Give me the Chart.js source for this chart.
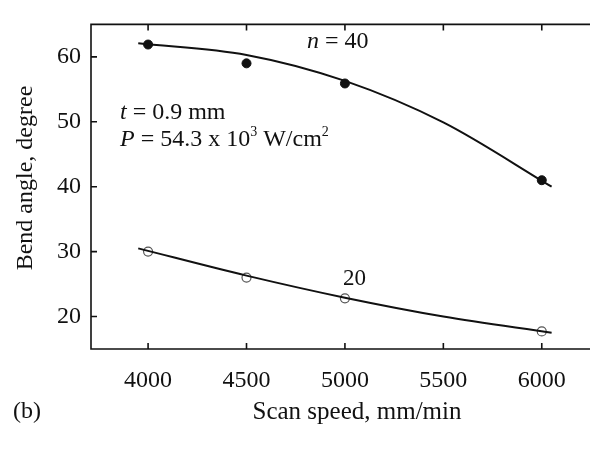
<!DOCTYPE html>
<html>
<head>
<meta charset="utf-8">
<script src="https://cdn.jsdelivr.net/npm/chart.js@4/dist/chart.umd.min.js"></script>
<style>
  html, body { margin: 0; padding: 0; background: #fff; }
</style>
</head>
<body>
<canvas id="bendChart" width="590" height="449"></canvas>
<script>
// measured points
const speeds = [4000, 4500, 5000, 6000];
const angle40 = [61.9, 59, 55.9, 41];
const angle20 = [30, 26, 22.8, 17.7];
// fitted curves
const fitSpeeds = [3950, 4500, 5000, 5500, 6050];
const fit40 = [62.1, 60.3, 56.3, 49.9, 40.0];
const fit20 = [30.5, 26.3, 22.9, 20.0, 17.5];
const xTicks = [4000, 4500, 5000, 5500, 6000];
const yTicks = [20, 30, 40, 50, 60];

const serif = '"Liberation Serif", "DejaVu Serif", serif';
const ink = '#111';

function pts(xs, ys) {
    return xs.map((x, i) => ({ x: x, y: ys[i] }));
}

// draws frame, inward ticks and the text labels
const decor = {
    id: 'decor',
    afterDraw(chart) {
        const ctx = chart.ctx;
        const a = chart.chartArea;
        const xs = chart.scales.x;
        const ys = chart.scales.y;
        ctx.save();
        ctx.strokeStyle = ink;
        ctx.lineWidth = 1.6;
        ctx.beginPath();
        ctx.moveTo(a.right, a.top);
        ctx.lineTo(a.left, a.top);
        ctx.lineTo(a.left, a.bottom);
        ctx.lineTo(a.right, a.bottom);
        xTicks.forEach(v => {
            const px = xs.getPixelForValue(v);
            ctx.moveTo(px, a.top); ctx.lineTo(px, a.top + 6);
            ctx.moveTo(px, a.bottom); ctx.lineTo(px, a.bottom - 6);
        });
        yTicks.forEach(v => {
            const py = ys.getPixelForValue(v);
            ctx.moveTo(a.left, py); ctx.lineTo(a.left + 6, py);
        });
        ctx.stroke();

        ctx.fillStyle = ink;
        ctx.textBaseline = 'middle';

        // axis titles
        ctx.font = '25px ' + serif;
        ctx.textAlign = 'center';
        ctx.fillText('Scan speed, mm/min', 357, 412);
        ctx.save();
        ctx.translate(26, 178);
        ctx.rotate(-Math.PI / 2);
        ctx.font = '24px ' + serif;
        ctx.fillText('Bend angle, degree', 0, 0);
        ctx.restore();

        ctx.textAlign = 'left';
        ctx.font = '24px ' + serif;
        ctx.fillText('(b)', 13, 412);

        // inline run of text pieces [text, italic, size, dy]
        function run(x, y, parts) {
            parts.forEach(p => {
                ctx.font = (p[1] ? 'italic ' : '') + p[2] + 'px ' + serif;
                ctx.fillText(p[0], x, y + (p[3] || 0));
                x += ctx.measureText(p[0]).width;
            });
        }
        run(307, 42, [
            ['n', true, 24], [' = 40', false, 24]
        ]);
        run(343, 279, [
            ['20', false, 23]
        ]);
        run(120, 113, [
            ['t', true, 24], [' = 0.9 mm', false, 24]
        ]);
        run(120, 140, [
            ['P', true, 24], [' = 54.3 x 10', false, 24], ['3', false, 14, -8],
            [' W/cm', false, 24], ['2', false, 14, -8]
        ]);
        ctx.restore();
    }
};

const ctx = document.getElementById('bendChart').getContext('2d');
const bendChart = new Chart(ctx, {
    type: 'scatter',
    data: {
        datasets: [{
            type: 'line',
            label: 'fit n = 40',
            data: pts(fitSpeeds, fit40),
            borderColor: ink,
            borderWidth: 2,
            pointRadius: 0,
            cubicInterpolationMode: 'monotone',
            fill: false
        }, {
            type: 'line',
            label: 'fit n = 20',
            data: pts(fitSpeeds, fit20),
            borderColor: ink,
            borderWidth: 2,
            pointRadius: 0,
            cubicInterpolationMode: 'monotone',
            fill: false
        }, {
            label: 'n = 40',
            data: pts(speeds, angle40),
            pointRadius: 4.5,
            backgroundColor: ink,
            borderColor: ink
        }, {
            label: 'n = 20',
            data: pts(speeds, angle20),
            pointRadius: 4.5,
            backgroundColor: '#fff',
            borderColor: '#555',
            borderWidth: 1.2
        }]
    },
    options: {
        responsive: false,
        animation: false,
        devicePixelRatio: 1,
        layout: { autoPadding: false, padding: { top: 12, right: 0, bottom: 0, left: 0 } },
        plugins: {
            legend: { display: false },
            tooltip: { enabled: false }
        },
        scales: {
            x: {
                type: 'linear',
                min: 3710,
                max: 6245,
                grid: { display: false, drawTicks: false },
                border: { display: false },
                afterBuildTicks: s => { s.ticks = xTicks.map(v => ({ value: v })); },
                afterFit: s => { s.height = 100; },
                ticks: {
                    color: ink,
                    padding: 17,
                    maxRotation: 0,
                    callback: v => String(v),
                    font: { family: serif, size: 24 }
                }
            },
            y: {
                min: 15,
                max: 65,
                grid: { display: false, drawTicks: false },
                border: { display: false },
                afterBuildTicks: s => { s.ticks = yTicks.map(v => ({ value: v })); },
                afterFit: s => { s.width = 91; },
                ticks: {
                    color: ink,
                    padding: 10,
                    font: { family: serif, size: 24 }
                }
            }
        }
    },
    plugins: [decor]
});
</script>
</body>
</html>
